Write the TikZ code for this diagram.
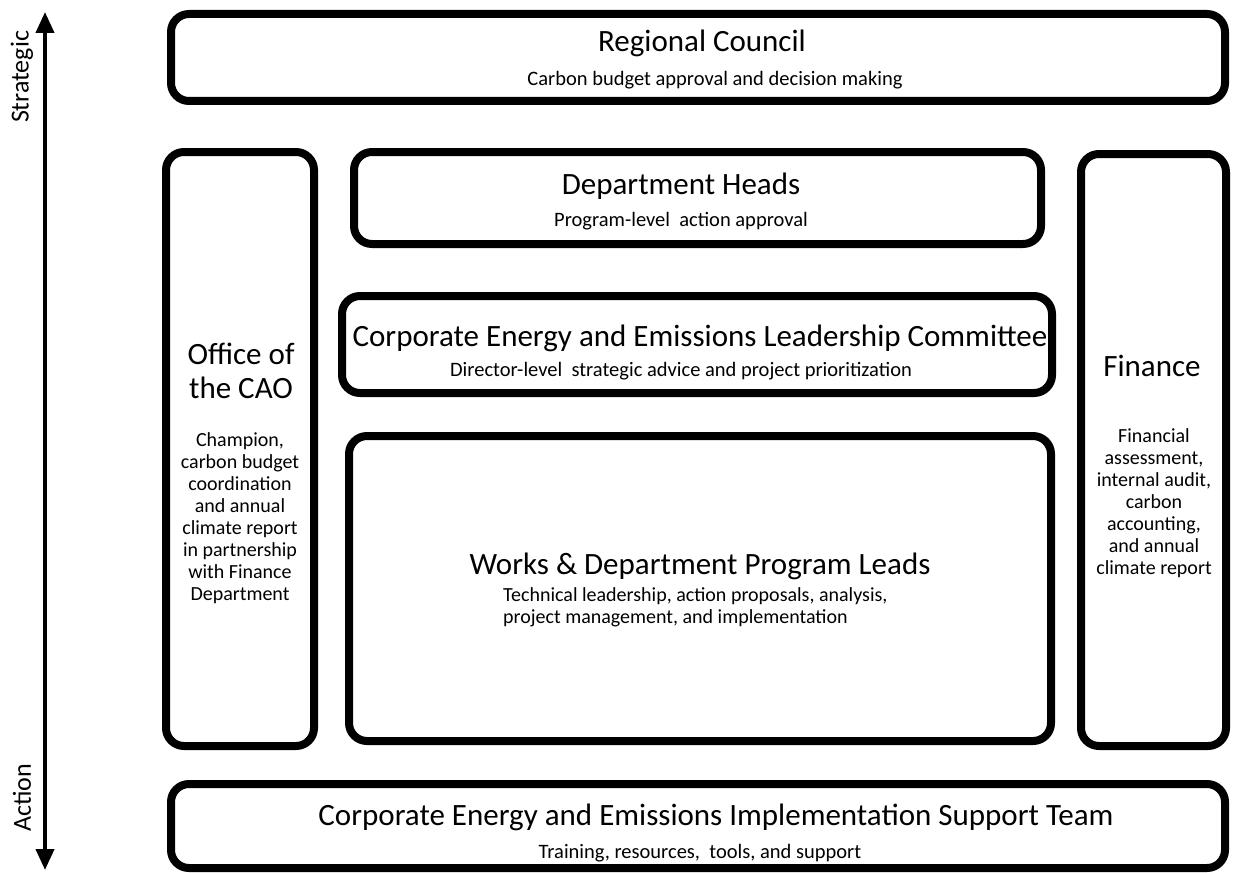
\documentclass[tikz,border=0pt]{standalone}
\usepackage{fontspec}
\setmainfont{Carlito}
\usetikzlibrary{arrows.meta}
\begin{document}
\begin{tikzpicture}[x=1pt,y=-1pt,
  box/.style={draw=black, line width=8pt, rounded corners=18pt, fill=white,
    inner sep=0pt, outer sep=0pt},
  ttl/.style={font=\fontsize{31}{34}\selectfont, inner sep=0pt, anchor=base},
  sub/.style={font=\fontsize{20.5}{23}\selectfont, inner sep=0pt, anchor=base},
  body/.style={font=\fontsize{20}{22}\selectfont, inner sep=0pt, align=center},
  axislbl/.style={font=\fontsize{26}{28}\selectfont, inner sep=0pt, rotate=90}
]
\useasboundingbox (0,0) rectangle (1233,872);

% vertical scale arrow
\coordinate (top) at (45,12);
\coordinate (bot) at (45,870);
\draw[line width=4pt, {Triangle[length=21pt,width=18pt]}-{Triangle[length=21pt,width=18pt]}] (bot) -- (top);
\node[axislbl] (lstrat) at (22,77) {Strategic};
\node[axislbl] (lact) at (22,798) {Action};

% boxes
\node[box, minimum width=1054pt, minimum height=87pt]  (rc)  at (698,57.5) {};
\node[box, minimum width=148pt,  minimum height=594pt] (cao) at (240,449) {};
\node[box, minimum width=687pt,  minimum height=92pt]  (dh)  at (697.5,198) {};
\node[box, minimum width=710pt,  minimum height=97pt]  (lc)  at (697,344.5) {};
\node[box, minimum width=702pt,  minimum height=305pt] (wk)  at (700,588.5) {};
\node[box, minimum width=145pt,  minimum height=592pt] (fin) at (1153.5,450) {};
\node[box, minimum width=1054pt, minimum height=84pt]  (imp) at (698,826) {};

% Regional Council
\node[ttl] (rct) at (702,52) {Regional Council};
\node[sub] (rcs) at (715,86) {Carbon budget approval and decision making};

% Department Heads
\node[ttl] (dht) at (681,194) {Department Heads};
\node[sub] (dhs) at (681,226) {Program-level\ \ action approval};

% Leadership Committee
\node[ttl] (lct) at (700,346) {Corporate Energy and Emissions Leadership Committee};
\node[sub] (lcs) at (681,376) {Director-level\ \ strategic advice and project prioritization};

% Office of the CAO
\node[ttl] (caot1) at (241,364) {Office of};
\node[ttl] (caot2) at (241,398) {the CAO};
\node[body] (caob) at (240,518) {Champion,\\carbon budget\\coordination\\and annual\\climate report\\in partnership\\with Finance\\Department};

% Finance
\node[ttl] (fint) at (1152,376) {Finance};
\node[body] (finb) at (1154,503) {Financial\\assessment,\\internal audit,\\carbon\\accounting,\\and annual\\climate report};

% Works & Department Program Leads
\node[ttl] (wkt) at (700,574) {Works \& Department Program Leads};
\node[body, align=left, anchor=west] (wks) at (503,607) {Technical leadership, action proposals, analysis,\\project management, and implementation};

% Implementation Support Team
\node[ttl] (impt) at (716,825) {Corporate Energy and Emissions Implementation Support Team};
\node[sub] (imps) at (700,858) {Training, resources,\ \ tools, and support};
\end{tikzpicture}
\end{document}
